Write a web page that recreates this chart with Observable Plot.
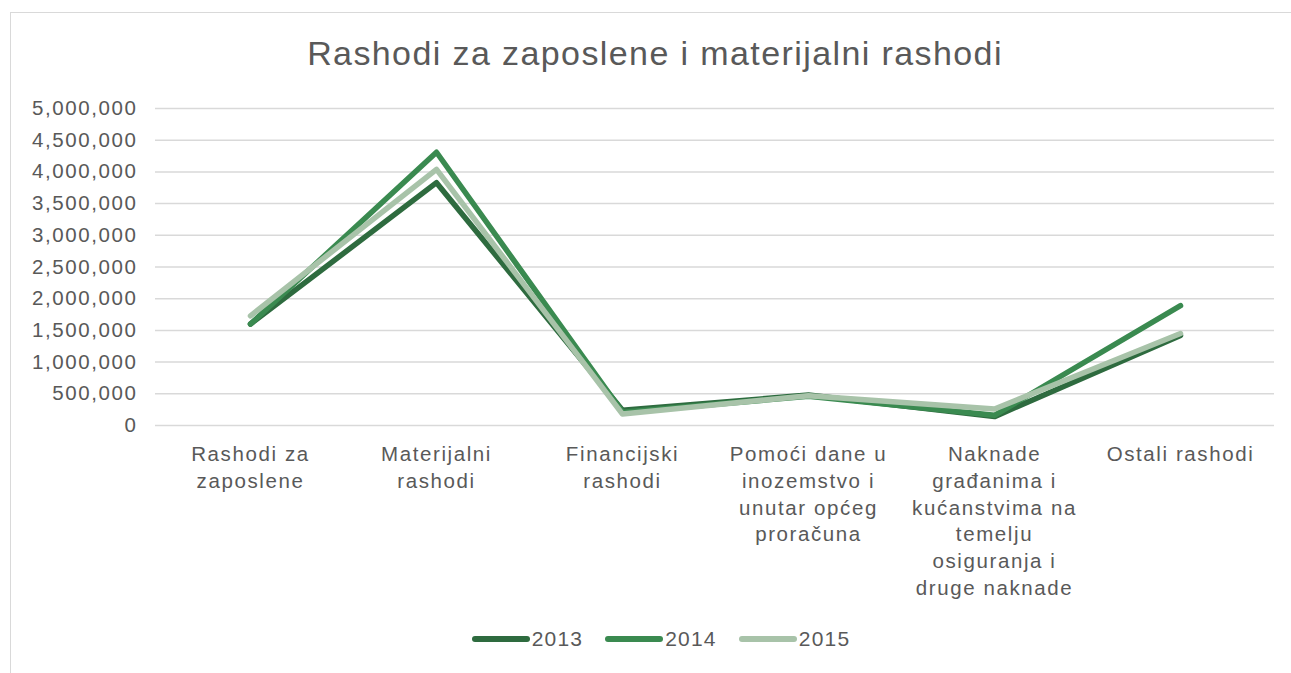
<!DOCTYPE html>
<html>
<head>
<meta charset="utf-8">
<script src="https://cdn.jsdelivr.net/npm/d3@7"></script>
<script src="https://cdn.jsdelivr.net/npm/@observablehq/plot@0.6"></script>
<style>
  body { margin: 0; background: #fff; font-family: "Liberation Sans", Arial, sans-serif; color: #595959; }
  #frame { position: absolute; left: 10px; top: 12px; width: 1290px; height: 700px; border: 1px solid #d9d9d9; box-sizing: border-box; }
  #title { position: absolute; left: 10px; top: 36px; width: 1290px; text-align: center; font-size: 34px; line-height: 1; letter-spacing: 1.4px; color: #595959; }
  #chart { position: absolute; left: 0; top: 90px; }
  #legend { position: absolute; left: 10px; top: 627px; width: 1290px; display: flex; justify-content: center; align-items: center; font-size: 21px; letter-spacing: 1.2px; color: #595959; padding-left: 12px; box-sizing: border-box; }
  .item { display: flex; align-items: center; margin: 0 11px; }
  .item svg { margin-right: 2px; }
</style>
</head>
<body>
<div id="frame"></div>
<div id="title">Rashodi za zaposlene i materijalni rashodi</div>
<div id="chart"></div>
<div id="legend"></div>
<script>
const categories = [
  "Rashodi za zaposlene",
  "Materijalni rashodi",
  "Financijski rashodi",
  "Pomoći dane u inozemstvo i unutar općeg proračuna",
  "Naknade građanima i kućanstvima na temelju osiguranja i druge naknade",
  "Ostali rashodi"
];
const tickLabels = [
  "Rashodi za\nzaposlene",
  "Materijalni\nrashodi",
  "Financijski\nrashodi",
  "Pomoći dane u\ninozemstvo i\nunutar općeg\nproračuna",
  "Naknade\ngrađanima i\nkućanstvima na\ntemelju\nosiguranja i\ndruge naknade",
  "Ostali rashodi"
];
const years = ["2013", "2014", "2015"];
const v2013 = [1600000, 3830000, 240000, 480000, 140000, 1420000];
const v2014 = [1600000, 4310000, 210000, 460000, 160000, 1890000];
const v2015 = [1730000, 4040000, 180000, 470000, 260000, 1450000];
const yTicks = [0, 500000, 1000000, 1500000, 2000000, 2500000, 3000000, 3500000, 4000000, 4500000, 5000000];
const colors = ["#2e6b3f", "#3a8a50", "#a8c3a9"];

const series = [v2013, v2014, v2015];
const data = [];
years.forEach((yr, i) => categories.forEach((c, j) => data.push({year: yr, cat: c, value: series[i][j]})));
const labelOf = new Map(categories.map((c, i) => [c, tickLabels[i]]));

const chart = Plot.plot({
  width: 1291,
  height: 530,
  marginTop: 18,
  marginBottom: 195,
  marginLeft: 155,
  marginRight: 17,
  style: { fontFamily: "'Liberation Sans', Arial, sans-serif", color: "#595959", letterSpacing: "1.6px", background: "transparent" },
  x: { type: "point", domain: categories, padding: 0.5 },
  y: { domain: [0, 5000000] },
  color: { domain: years, range: colors },
  marks: [
    Plot.gridY(yTicks, { stroke: "#d9d9d9", strokeOpacity: 1, strokeWidth: 1.5 }),
    Plot.axisY({ ticks: yTicks, tickSize: 0, tickPadding: 18, tickFormat: d3.format(","), fontSize: 20.5, label: null, fill: "#595959" }),
    Plot.axisX({ tickSize: 0, tickPadding: 17, tickFormat: d => labelOf.get(d), fontSize: 20.5, lineHeight: 1.3, label: null, fill: "#595959", letterSpacing: "0.6px" }),
    Plot.line(data, { x: "cat", y: "value", stroke: "year", z: "year", strokeWidth: 5.5, strokeLinecap: "round", strokeLinejoin: "round" })
  ]
});
document.getElementById("chart").appendChild(chart);

const legend = document.getElementById("legend");
years.forEach((yr, i) => {
  const item = document.createElement("div");
  item.className = "item";
  item.innerHTML = `<svg width="58" height="10"><line x1="3" y1="5" x2="55" y2="5" stroke="${colors[i]}" stroke-width="6" stroke-linecap="round"/></svg><span>${yr}</span>`;
  legend.appendChild(item);
});
</script>
</body>
</html>
